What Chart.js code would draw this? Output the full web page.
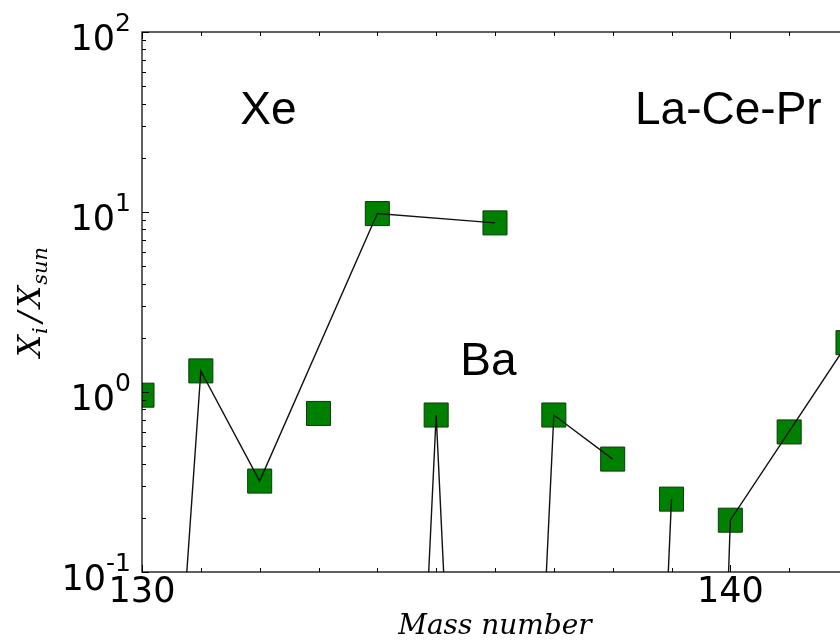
<!DOCTYPE html>
<html>
<head>
<meta charset="utf-8">
<script src="https://cdn.jsdelivr.net/npm/chart.js@4.4.1/dist/chart.umd.min.js"></script>
<style>
  html, body { margin: 0; padding: 0; background: #fff; overflow: hidden; }
  canvas { display: block; }
</style>
</head>
<body>
<canvas id="abund" width="860" height="643"></canvas>
<script>
// X_i/X_sun per isotope, one pair of arrays per element
const xeMass = [130, 131, 132, 134, 136];
const xeVal  = [2.7e-5, 1.31, 0.32, 9.8, 8.7];
const baMass = [134, 135, 136, 137, 138];
const baVal  = [1e-7, 0.745, 1e-7, 0.745, 0.424];
const laMass = [138, 139];
const laVal  = [1e-8, 0.254];
const ceMass = [138, 140, 142];
const ceVal  = [1e-20, 0.194, 1.88];
// lone points (no isotope chain drawn)
const teMass = [130];
const teVal  = [0.96];
const csMass = [133];
const csVal  = [0.76];
const prMass = [141];
const prVal  = [0.60];

const xRange = [130, 142];
const xLabelTicks = [130, 140];
const yDecades = [0.1, 1, 10, 100];
const yExponents = ['-1', '0', '1', '2'];
const yMinorSteps = [2, 3, 4, 5, 6, 7, 8, 9];

// element group names and where they sit (data coords)
const groupNames = ['Xe', 'Ba', 'La-Ce-Pr'];
const groupX = [131.67, 135.41, 138.38];
const groupY = [31, 1.24, 31];

const toPts = (m, v) => m.map((x, i) => ({ x: x, y: v[i] }));

const chains = [[xeMass, xeVal], [baMass, baVal], [laMass, laVal], [ceMass, ceVal]];
const allPts = [[teMass, teVal], [csMass, csVal], [prMass, prVal]].concat(chains)
  .reduce((acc, c) => acc.concat(toPts(c[0], c[1])), []);

const lineSet = (m, v) => ({
  data: toPts(m, v), showLine: true, borderColor: '#111', borderWidth: 1.4,
  pointRadius: 0, clip: 0, order: 0
});

// spines, inward ticks, log labels with superscripts, y title, group names
const frame = {
  id: 'frame',
  afterDraw(chart) {
    const { ctx, chartArea: a } = chart;
    const x = chart.scales.x, y = chart.scales.y;
    ctx.save();
    ctx.strokeStyle = '#000';
    ctx.lineWidth = 1.25;
    ctx.strokeRect(a.left, a.top, a.right - a.left, a.bottom - a.top);

    ctx.lineWidth = 1;
    ctx.beginPath();
    x.ticks.forEach(t => {
      const px = Math.round(x.getPixelForValue(t.value)) + 0.5;
      const len = xLabelTicks.includes(t.value) ? 7 : 4;
      ctx.moveTo(px, a.bottom); ctx.lineTo(px, a.bottom - len);
      ctx.moveTo(px, a.top); ctx.lineTo(px, a.top + len);
    });
    yDecades.forEach((d, i) => {
      const py = Math.round(y.getPixelForValue(d)) + 0.5;
      ctx.moveTo(a.left, py); ctx.lineTo(a.left + 7, py);
      ctx.moveTo(a.right, py); ctx.lineTo(a.right - 7, py);
      if (i < yDecades.length - 1) {
        yMinorSteps.forEach(k => {
          const pm = Math.round(y.getPixelForValue(k * d)) + 0.5;
          ctx.moveTo(a.left, pm); ctx.lineTo(a.left + 4, pm);
          ctx.moveTo(a.right, pm); ctx.lineTo(a.right - 4, pm);
        });
      }
    });
    ctx.stroke();

    ctx.fillStyle = '#000';
    ctx.textAlign = 'right';
    ctx.textBaseline = 'alphabetic';
    yDecades.forEach((d, i) => {
      const py = y.getPixelForValue(d);
      const right = a.left - 11;
      ctx.font = '25px "DejaVu Sans"';
      const supW = ctx.measureText(yExponents[i]).width;
      ctx.fillText(yExponents[i], right, py - 1);
      ctx.font = '35px "DejaVu Sans"';
      ctx.fillText('10', right - supW, py + 18);
    });

    // X_i / X_sun, rotated
    ctx.save();
    ctx.translate(40, (a.top + a.bottom) / 2);
    ctx.rotate(-Math.PI / 2);
    const big = 'italic 31px "DejaVu Serif"', small = 'italic 21px "DejaVu Serif"';
    const parts = [['X', big, 0, 0], ['i', small, 7, 1], ['/', big, 0, 5], ['X', big, 0, 4], ['sun', small, 7, 1]];
    let total = 0;
    parts.forEach(p => { ctx.font = p[1]; total += p[3] + ctx.measureText(p[0]).width; });
    let cx = -total / 2;
    ctx.textAlign = 'left';
    parts.forEach(p => {
      ctx.font = p[1];
      cx += p[3];
      ctx.fillText(p[0], cx, p[2]);
      cx += ctx.measureText(p[0]).width;
    });
    ctx.restore();

    ctx.font = '46px "Liberation Sans"';
    ctx.textAlign = 'left';
    groupNames.forEach((n, i) => {
      ctx.fillText(n, x.getPixelForValue(groupX[i]), y.getPixelForValue(groupY[i]));
    });
    ctx.restore();
  }
};

new Chart(document.getElementById('abund'), {
  type: 'scatter',
  data: {
    datasets: chains.map(c => lineSet(c[0], c[1])).concat([{
      data: allPts, pointStyle: 'rect', pointRadius: 17,
      backgroundColor: '#008000', borderColor: '#0b3b0b', borderWidth: 1,
      clip: 0, order: 1
    }])
  },
  options: {
    responsive: false,
    animation: false,
    events: [],
    layout: { autoPadding: false, padding: { left: 142, top: 32, right: 12, bottom: 2 } },
    plugins: { legend: { display: false }, tooltip: { enabled: false } },
    scales: {
      x: {
        type: 'linear', min: xRange[0], max: xRange[1],
        grid: { display: false, drawTicks: false },
        border: { display: false },
        ticks: {
          stepSize: 1, autoSkip: false, maxRotation: 0, padding: 3, color: '#000',
          font: { family: 'DejaVu Sans', size: 35, lineHeight: 1 },
          callback: v => xLabelTicks.includes(v) ? String(v) : ''
        },
        title: {
          display: true, text: 'Mass number', color: '#000',
          font: { family: 'DejaVu Serif', style: 'italic', size: 28, lineHeight: 1 },
          padding: { top: 0, bottom: 0 }
        }
      },
      y: { type: 'logarithmic', min: 0.1, max: 100, display: false }
    }
  },
  plugins: [frame]
});
</script>
</body>
</html>
